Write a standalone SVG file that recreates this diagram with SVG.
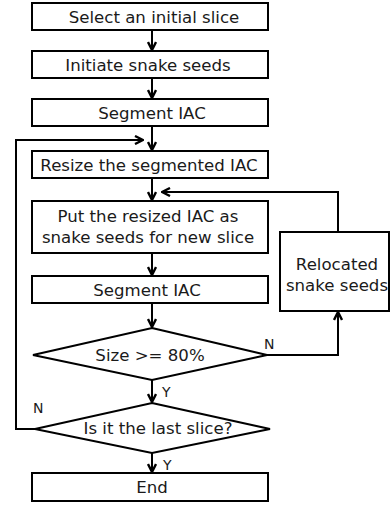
<svg xmlns="http://www.w3.org/2000/svg" width="391" height="506" viewBox="0 0 391 506">
<defs>
<style>
.box{fill:#fff;stroke:#000;stroke-width:2}
.ln{fill:none;stroke:#000;stroke-width:2}
.t{font-family:"DejaVu Sans",sans-serif;font-size:16.6px;fill:#1a1a1a;text-anchor:middle;dominant-baseline:central}
.lb{font-family:"DejaVu Sans",sans-serif;font-size:14px;fill:#1a1a1a;dominant-baseline:central}
</style>
<marker id="ah" viewBox="0 0 10 10" refX="9" refY="5" markerWidth="10" markerHeight="10" markerUnits="userSpaceOnUse" orient="auto">
<path d="M1,1 L9,5 L1,9" fill="none" stroke="#000" stroke-width="2.4"/>
</marker>
</defs>
<rect width="391" height="506" fill="#fff"/>
<g id="connectors">
<line class="ln" x1="152" y1="30" x2="152" y2="50" marker-end="url(#ah)"/>
<line class="ln" x1="152" y1="78" x2="152" y2="98" marker-end="url(#ah)"/>
<line class="ln" x1="152" y1="126" x2="152" y2="150" marker-end="url(#ah)"/>
<line class="ln" x1="152" y1="178" x2="152" y2="200" marker-end="url(#ah)"/>
<line class="ln" x1="152" y1="253" x2="152" y2="275" marker-end="url(#ah)"/>
<line class="ln" x1="152" y1="303" x2="152" y2="327" marker-end="url(#ah)"/>
<line class="ln" x1="152" y1="380" x2="152" y2="402" marker-end="url(#ah)"/>
<line class="ln" x1="152" y1="453" x2="152" y2="472" marker-end="url(#ah)"/>
<polyline class="ln" points="267,355 338,355 338,312" marker-end="url(#ah)"/>
<polyline class="ln" points="338,232 338,192 162,192" marker-end="url(#ah)"/>
<polyline class="ln" points="35,429 16,429 16,140 143,140" marker-end="url(#ah)"/>
<text class="lb" x="264" y="344">N</text>
<text class="lb" x="162" y="392">Y</text>
<text class="lb" x="33" y="408">N</text>
<text class="lb" x="163" y="465">Y</text>
</g>
<g id="n1"><rect class="box" x="32" y="3" width="236" height="27"/><text class="t" x="154" y="17">Select an initial slice</text></g>
<g id="n2"><rect class="box" x="32" y="51" width="236" height="27"/><text class="t" x="148" y="65">Initiate snake seeds</text></g>
<g id="n3"><rect class="box" x="32" y="99" width="236" height="27"/><text class="t" x="152" y="113">Segment IAC</text></g>
<g id="n4"><rect class="box" x="32" y="151" width="236" height="27"/><text class="t" x="149" y="165">Resize the segmented IAC</text></g>
<g id="n5"><rect class="box" x="32" y="201" width="236" height="52"/><text class="t" x="148" y="216">Put the resized IAC as</text><text class="t" x="148" y="237">snake seeds for new slice</text></g>
<g id="n6"><rect class="box" x="32" y="276" width="236" height="27"/><text class="t" x="147" y="290">Segment IAC</text></g>
<g id="n7"><rect class="box" x="280" y="232" width="109" height="79"/><text class="t" x="337" y="264">Relocated</text><text class="t" x="337" y="285">snake seeds</text></g>
<g id="d1"><polygon class="box" points="152,328 267,355 152,380 33,355"/><text class="t" x="150" y="355">Size &gt;= 80%</text></g>
<g id="d2"><polygon class="box" points="152,403 270,429 152,453 35,429"/><text class="t" x="158" y="428">Is it the last slice?</text></g>
<g id="n8"><rect class="box" x="32" y="473" width="236" height="28"/><text class="t" x="152" y="487">End</text></g>
</svg>
